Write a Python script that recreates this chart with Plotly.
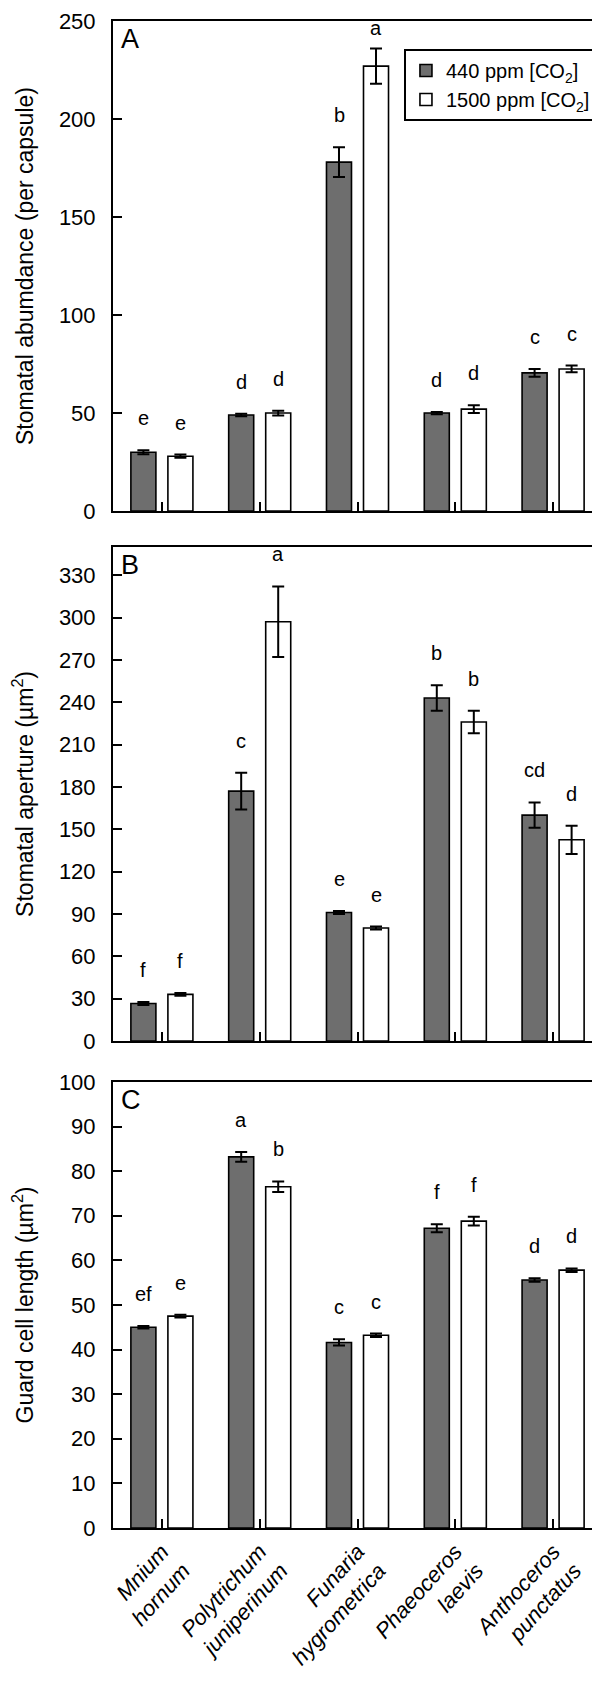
import plotly.graph_objects as go

species = ["<i>Mnium</i><br><i>hornum</i>", "<i>Polytrichum</i><br><i>juniperinum</i>",
           "<i>Funaria</i><br><i>hygrometrica</i>", "<i>Phaeoceros</i><br><i>laevis</i>",
           "<i>Anthoceros</i><br><i>punctatus</i>"]
cats = ["Mnium", "Polytrichum", "Funaria", "Phaeoceros", "Anthoceros"]
series_names = ["440 ppm [CO<sub>2</sub>]", "1500 ppm [CO<sub>2</sub>]"]

# Panel A: stomatal abundance (per capsule)
a_440 = [30, 49, 178, 50, 70.5]
a_440_err = [1.0, 0.6, 7.6, 0.6, 2.0]
a_1500 = [28, 50, 227, 52, 72.5]
a_1500_err = [0.8, 1.2, 9.0, 2.0, 1.7]
a_let_440 = ["e", "d", "b", "d", "c"]
a_let_1500 = ["e", "d", "a", "d", "c"]

# Panel B: stomatal aperture (um2)
b_440 = [26.5, 177, 91, 243, 160]
b_440_err = [1.0, 13, 1.0, 9, 9]
b_1500 = [33, 297, 80, 226, 142.5]
b_1500_err = [1.0, 25, 1.0, 8, 10]
b_let_440 = ["f", "c", "e", "b", "cd"]
b_let_1500 = ["f", "a", "e", "b", "d"]

# Panel C: guard cell length (um2)
c_440 = [45.0, 83.2, 41.6, 67.2, 55.6]
c_440_err = [0.3, 1.1, 0.7, 0.9, 0.4]
c_1500 = [47.5, 76.5, 43.2, 68.8, 57.8]
c_1500_err = [0.3, 1.2, 0.4, 1.0, 0.4]
c_let_440 = ["ef", "a", "c", "f", "d"]
c_let_1500 = ["e", "b", "c", "f", "d"]

a_ticks = [0, 50, 100, 150, 200, 250]
b_ticks = [0, 30, 60, 90, 120, 150, 180, 210, 240, 270, 300, 330]
c_ticks = [0, 10, 20, 30, 40, 50, 60, 70, 80, 90, 100]

FONT = "Liberation Sans, Arial, Helvetica, sans-serif"
DARK = "#6e6e6e"
FIG_H, MT, MB = 1697, 13, 177
PLOT_H = FIG_H - MT - MB

panels = [
    dict(v=(a_440, a_1500), e=(a_440_err, a_1500_err), l=(a_let_440, a_let_1500), ticks=a_ticks,
         rng=[0, 250], title="Stomatal abumdance (per capsule)", tag="A", dom=[0.6748, 1.0]),
    dict(v=(b_440, b_1500), e=(b_440_err, b_1500_err), l=(b_let_440, b_let_1500), ticks=b_ticks,
         rng=[0, 350], title="Stomatal aperture (µm<sup>2</sup>)", tag="B", dom=[0.3232, 0.651]),
    dict(v=(c_440, c_1500), e=(c_440_err, c_1500_err), l=(c_let_440, c_let_1500), ticks=c_ticks,
         rng=[0, 100], title="Guard cell length (µm<sup>2</sup>)", tag="C", dom=[0.0, 0.296]),
]

fig = go.Figure()
annotations = []
layout = {}
fills = [DARK, "white"]

for i, p in enumerate(panels):
    n = "" if i == 0 else str(i + 1)
    xa, ya = "x" + n, "y" + n
    ppu = (p["dom"][1] - p["dom"][0]) * PLOT_H / (p["rng"][1] - p["rng"][0])
    for s in range(2):
        fig.add_trace(go.Bar(
            x=cats, y=p["v"][s], xaxis=xa, yaxis=ya, name=series_names[s],
            marker=dict(color=fills[s], line=dict(color="black", width=1.6)),
            error_y=dict(type="data", array=p["e"][s], color="black", thickness=2, width=6),
            showlegend=(i == 0), legendgroup=str(s),
            offsetgroup=str(s),
        ))
        for k, c in enumerate(cats):
            top = p["v"][s][k] + p["e"][s][k]
            room = (p["rng"][1] - top) * ppu
            ys = max(0, min(19, room - 20))
            annotations.append(dict(
                x=c, y=top, xref=xa, yref=ya,
                text=p["l"][s][k], showarrow=False, yanchor="bottom",
                xshift=(-18.5 if s == 0 else 18.5), yshift=ys,
                font=dict(size=20, color="black", family=FONT)))
    annotations.append(dict(
        x=0.012, y=p["dom"][1], xref="paper", yref="paper", xanchor="left", yanchor="top",
        text=p["tag"], showarrow=False, yshift=-1,
        font=dict(size=27, color="black", family=FONT)))
    layout["xaxis" + n] = dict(
        domain=[0, 1], anchor=ya, type="category", categoryorder="array", categoryarray=cats,
        showline=True, linecolor="black", linewidth=2, mirror=True,
        ticks="inside", ticklen=9, tickwidth=2, tickcolor="black",
        tickvals=cats, ticktext=species, showticklabels=(i == 2), tickangle=-48,
        tickfont=dict(size=22, color="black", family=FONT), ticklabeloverflow="allow",
        showgrid=False, zeroline=False, fixedrange=True, automargin=False,
    )
    layout["yaxis" + n] = dict(
        domain=p["dom"], anchor=xa, range=p["rng"], tickvals=p["ticks"],
        showline=True, linecolor="black", linewidth=2, mirror=True,
        ticks="inside", ticklen=9, tickwidth=2, tickcolor="black",
        tickfont=dict(size=22, color="black", family=FONT),
        ticklabelstandoff=11, automargin=False, ticklabeloverflow="allow",
        title=dict(text=p["title"], font=dict(size=23, color="black", family=FONT), standoff=19),
        showgrid=False, zeroline=False,
    )

fig.update_layout(
    width=600, height=FIG_H,
    margin=dict(l=105, r=6, t=MT, b=MB, autoexpand=False),
    paper_bgcolor="white", plot_bgcolor="white",
    barmode="group", bargap=0.243, bargroupgap=0.324,
    font=dict(family=FONT, color="black", size=20),
    legend=dict(x=0.595, y=0.9814, xanchor="left", yanchor="top",
                bgcolor="white", bordercolor="black", borderwidth=2,
                font=dict(size=20, color="black", family=FONT),
                tracegroupgap=0, itemwidth=30),
    annotations=annotations,
    showlegend=True,
    **layout,
)

fig.write_html("out.html")
